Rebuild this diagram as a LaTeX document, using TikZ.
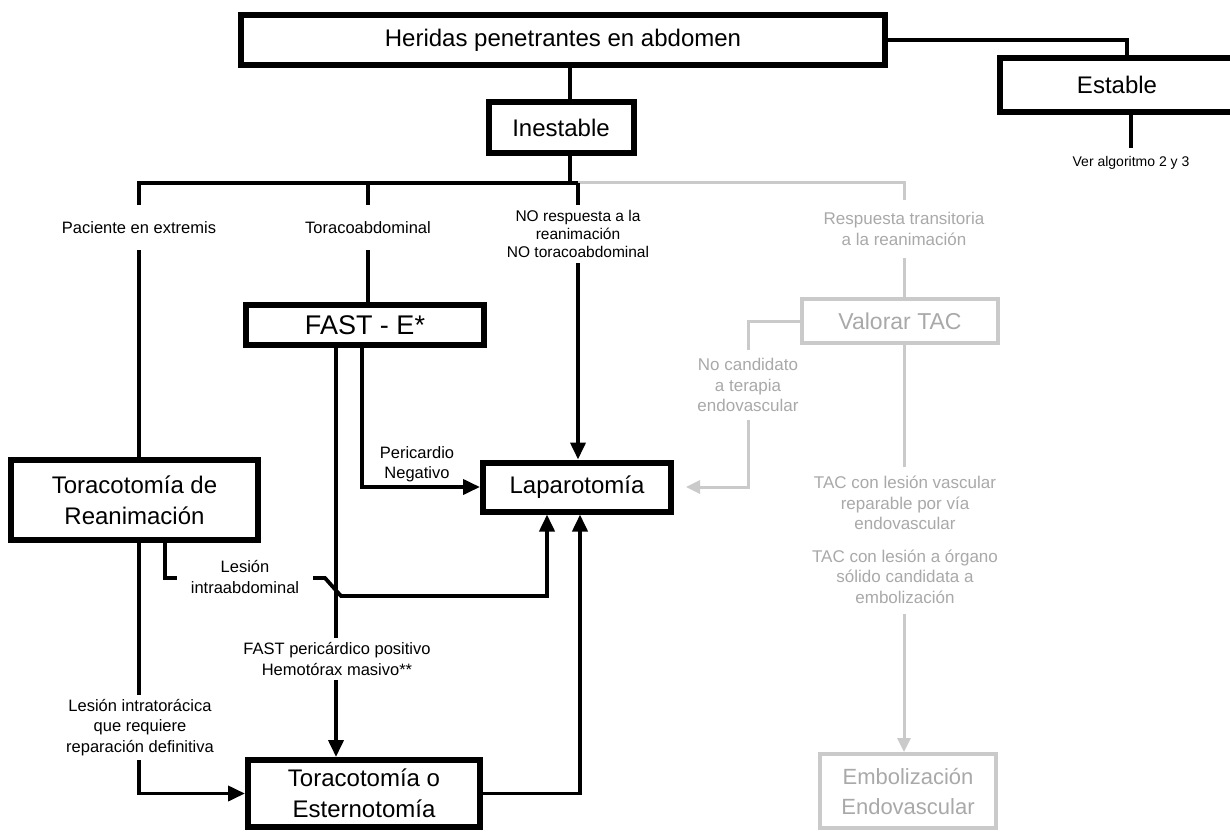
\documentclass[tikz,border=0pt]{standalone}
\usepackage{fontspec}
\setmainfont{Liberation Sans}
\usetikzlibrary{arrows.meta,calc}
\definecolor{inkgray}{HTML}{CACACA}
\definecolor{txtgray}{HTML}{A9A9A9}
\begin{document}
\begin{tikzpicture}[x=1pt,y=-1pt,
  box/.style={draw=black, line width=6pt, fill=white, inner sep=0pt, align=center,
    font=\fontsize{24}{31}\selectfont},
  gbox/.style={draw=inkgray, line width=4pt, fill=white, inner sep=0pt, align=center,
    text=txtgray, font=\fontsize{23}{30}\selectfont},
  conn/.style={draw=black, line width=3.8pt},
  arr/.style={conn, -{Triangle[length=17pt,width=15pt]}},
  gconn/.style={draw=inkgray, line width=3pt},
  garr/.style={gconn, -{Triangle[length=14pt,width=13pt]}},
  lbl/.style={fill=white, inner sep=0pt, align=center, font=\fontsize{16.5}{20.5}\selectfont},
  glbl/.style={lbl, text=txtgray, font=\fontsize{17}{20.5}\selectfont},
]
\useasboundingbox (0,0) rectangle (1230,834);
\fill[white] (0,0) rectangle (1230,834);

% boxes
\node[box, minimum width=644pt, minimum height=50pt] (her) at (563,40) {Heridas penetrantes en abdomen};
\node[box, minimum width=234pt, minimum height=54pt] (est) at (1117,85) {Estable};
\node[box, minimum width=145pt, minimum height=51pt] (ine) at (561,128) {Inestable};
\node[box, minimum width=238pt, minimum height=40pt, font=\fontsize{27}{30}\selectfont] (fast) at (365,325) {FAST - E*};
\node[box, minimum width=188pt, minimum height=49pt] (lap) at (577,487) {Laparotomía};
\node[box, minimum width=247pt, minimum height=80pt] (tre) at (134.5,500) {Toracotomía de\\Reanimación};
\node[box, minimum width=232pt, minimum height=67pt] (toe) at (364,793.5) {Toracotomía o\\Esternotomía};
\node[gbox, minimum width=196pt, minimum height=44pt] (tac) at (900,321) {Valorar TAC};
\node[gbox, minimum width=176pt, minimum height=74pt, font=\fontsize{22}{30}\selectfont] (emb) at (908,791) {Embolización\\Endovascular};

% routing points
\coordinate (xa) at (570,0);
\coordinate (bl) at (139,183);
\coordinate (bm) at (368,183);
\coordinate (br) at (578,183);
\coordinate (bg) at (904,183);
\coordinate (xe1) at (1127,0);
\coordinate (xe2) at (1131,0);
\coordinate (ve) at (1131,148);
\coordinate (xf1) at (336,0);
\coordinate (xf2) at (362,0);
\coordinate (xl) at (165,0);
\coordinate (hopA) at (325,578);
\coordinate (hopB) at (341,596);
\coordinate (xr1) at (547,0);
\coordinate (xr2) at (580,0);
\coordinate (xg) at (748,0);

% connectors
\draw[conn] (her.south -| xa) -- (ine.north -| xa);
\draw[conn] (her.east) -| (est.north -| xe1);
\draw[conn] (est.south -| xe2) -- (ve);
\draw[conn] (ine.south -| xa) -- (xa |- bl);
\draw[gconn] (br) -- (bg) -- (tac.north -| bg);
\draw[conn] (tre.north -| bl) -- (bl) -- (br);
\draw[arr] (br) -- (lap.north -| br);
\draw[conn] (bm) -- (fast.north -| bm);
\draw[arr] (fast.south -| xf2) |- (lap.west);
\draw[arr] (fast.south -| xf1) -- (toe.north -| xf1);
\draw[arr] (tre.south -| xl) |- (hopA) -- (hopB) -| (lap.south -| xr1);
\draw[arr] (tre.south -| bl) |- (toe.west);
\draw[arr] (toe.east) -| (lap.south -| xr2);
\draw[garr, shorten >=12pt] (tac.west) -| (xg |- lap.east) -- (lap.east);
\draw[garr] (tac.south -| bg) -- (emb.north -| bg);

% labels on the connectors
\node[lbl, minimum height=45pt] (pac) at (139,227.5) {Paciente en extremis};
\node[lbl, minimum height=45pt] (tor) at (368,227.5) {Toracoabdominal};
\node[lbl, minimum height=57pt, font=\fontsize{15.5}{18}\selectfont] (nor) at (578,234) {NO respuesta a la\\reanimación\\NO toracoabdominal};
\node[glbl, minimum height=58pt] (rta) at (904,229) {Respuesta transitoria\\a la reanimación};
\node[lbl, minimum width=136pt] (lab) at (245,577) {Lesión\\intraabdominal};
\node[lbl, fill=none] (peri) at (417,464) {Pericardio\\Negativo};
\node[lbl, minimum height=42pt] (fpp) at (337,659) {FAST pericárdico positivo\\Hemotórax masivo**};
\node[lbl, minimum height=65pt] (lit) at (140,727.5) {Lesión intratorácica\\que requiere\\reparación definitiva};
\node[glbl, minimum height=70pt] (nca) at (748,385) {No candidato\\a terapia\\endovascular};
\node[glbl, minimum height=147pt] (tcl) at (905,540) {TAC con lesión vascular\\reparable por vía\\endovascular\\[12pt]TAC con lesión a órgano\\sólido candidata a\\embolización};
\node[lbl, font=\fontsize{14}{17}\selectfont] (ver) at (1131,163) {Ver algoritmo 2 y 3};
\end{tikzpicture}
\end{document}
